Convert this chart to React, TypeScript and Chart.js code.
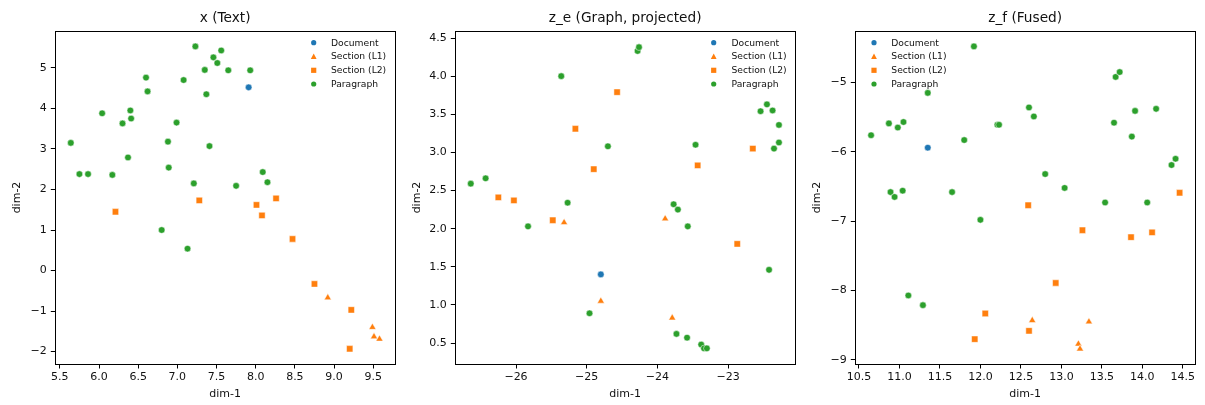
import React, { useEffect, useRef } from 'react';
import { Chart, registerables } from 'chart.js';

Chart.register(...registerables);

// ---------- DATA ----------
// Panel 1: x (Text)
const textDocument = [[7.91, 4.52]];
const textSectionL1 = [[8.92, -0.67], [9.49, -1.4], [9.51, -1.63], [9.58, -1.69]];
const textSectionL2 = [
  [6.21, 1.45], [7.28, 1.73], [8.01, 1.62], [8.08, 1.36], [8.26, 1.78],
  [8.47, 0.78], [8.75, -0.33], [9.22, -0.97], [9.2, -1.93],
];
const textParagraph = [
  [5.64, 3.15], [5.75, 2.38], [5.86, 2.38], [6.04, 3.88], [6.17, 2.36], [6.3, 3.63],
  [6.37, 2.79], [6.4, 3.95], [6.41, 3.75], [6.6, 4.76], [6.62, 4.42], [6.88, 3.18],
  [6.89, 2.54], [6.99, 3.65], [7.08, 4.7], [7.21, 2.15], [7.23, 5.53], [7.35, 4.95],
  [7.37, 4.35], [7.41, 3.07], [7.46, 5.26], [7.51, 5.12], [7.56, 5.43], [7.65, 4.94],
  [7.75, 2.09], [7.93, 4.94], [8.09, 2.43], [8.15, 2.18], [6.8, 1.0], [7.13, 0.54],
];
const textXTicks = [5.5, 6.0, 6.5, 7.0, 7.5, 8.0, 8.5, 9.0, 9.5];
const textYTicks = [-2, -1, 0, 1, 2, 3, 4, 5];

// Panel 2: z_e (Graph, projected)
const graphDocument = [[-24.8, 1.4]];
const graphSectionL1 = [[-25.32, 2.08], [-23.89, 2.13], [-24.8, 1.05], [-23.79, 0.83]];
const graphSectionL2 = [
  [-26.25, 2.41], [-26.03, 2.37], [-25.48, 2.11], [-25.16, 3.31], [-24.9, 2.78],
  [-24.57, 3.79], [-23.43, 2.83], [-22.65, 3.05], [-22.87, 1.8],
];
const graphParagraph = [
  [-26.64, 2.59], [-26.43, 2.66], [-25.36, 4.0], [-24.7, 3.08], [-24.28, 4.33],
  [-24.26, 4.38], [-23.46, 3.1], [-22.54, 3.54], [-22.45, 3.63], [-22.37, 3.55],
  [-22.28, 3.36], [-22.28, 3.13], [-22.35, 3.05], [-25.27, 2.34], [-25.83, 2.03],
  [-24.96, 0.89], [-23.77, 2.32], [-23.71, 2.25], [-23.57, 2.03], [-23.73, 0.62],
  [-23.58, 0.57], [-23.38, 0.48], [-23.34, 0.43], [-23.3, 0.43], [-22.42, 1.46],
];
const graphXTicks = [-26, -25, -24, -23];
const graphYTicks = [0.5, 1.0, 1.5, 2.0, 2.5, 3.0, 3.5, 4.0, 4.5];

// Panel 3: z_f (Fused)
const fusedDocument = [[11.35, -5.94]];
const fusedSectionL1 = [[12.64, -8.43], [13.34, -8.45], [13.21, -8.77], [13.23, -8.84]];
const fusedSectionL2 = [
  [14.46, -6.59], [12.59, -6.77], [13.26, -7.13], [13.86, -7.23], [14.12, -7.16],
  [12.93, -7.89], [12.06, -8.33], [11.93, -8.7], [12.6, -8.58],
];
const fusedParagraph = [
  [10.65, -5.76], [10.87, -5.59], [10.98, -5.65], [11.05, -5.57], [11.35, -5.15],
  [11.92, -4.48], [11.8, -5.83], [12.21, -5.61], [12.23, -5.61], [12.6, -5.36],
  [12.66, -5.49], [12.8, -6.32], [13.04, -6.52], [13.65, -5.58], [13.67, -4.92],
  [13.72, -4.85], [13.87, -5.78], [13.91, -5.41], [14.17, -5.38], [14.36, -6.19],
  [14.41, -6.1], [10.89, -6.58], [10.94, -6.65], [11.04, -6.56], [11.65, -6.58],
  [12.0, -6.98], [13.54, -6.73], [14.06, -6.73], [11.11, -8.07], [11.29, -8.21],
];
const fusedXTicks = [10.5, 11.0, 11.5, 12.0, 12.5, 13.0, 13.5, 14.0, 14.5];
const fusedYTicks = [-9, -8, -7, -6, -5];

const seriesLabels = ['Document', 'Section (L1)', 'Section (L2)', 'Paragraph'];

// ---------- STYLE ----------
const BLUE = '#1f77b4';
const ORANGE = '#ff7f0e';
const GREEN = '#2ca02c';
const FONT = "'DejaVu Sans', 'Liberation Sans', sans-serif";
const TEXT = '#111';

const fmt = (v: number, dec: number) => v.toFixed(dec).replace('-', '\u2212');

type Panel = {
  title: string;
  series: number[][][];
  xMin: number; xMax: number; yMin: number; yMax: number;
  xTicks: number[]; yTicks: number[]; xDec: number; yDec: number;
  legendMarkerX: number; legendTextX: number;
};

const panels: Panel[] = [
  {
    title: 'x (Text)',
    series: [textDocument, textSectionL1, textSectionL2, textParagraph],
    xMin: 5.442, xMax: 9.778, yMin: -2.305, yMax: 5.91,
    xTicks: textXTicks, yTicks: textYTicks, xDec: 1, yDec: 0,
    legendMarkerX: 313.7, legendTextX: 331,
  },
  {
    title: 'z_e (Graph, projected)',
    series: [graphDocument, graphSectionL1, graphSectionL2, graphParagraph],
    xMin: -26.859, xMax: -22.053, yMin: 0.225, yMax: 4.592,
    xTicks: graphXTicks, yTicks: graphYTicks, xDec: 0, yDec: 1,
    legendMarkerX: 313.7, legendTextX: 331.5,
  },
  {
    title: 'z_f (Fused)',
    series: [fusedDocument, fusedSectionL1, fusedSectionL2, fusedParagraph],
    xMin: 10.455, xMax: 14.65, yMin: -9.058, yMax: -4.258,
    xTicks: fusedXTicks, yTicks: fusedYTicks, xDec: 1, yDec: 0,
    legendMarkerX: 74, legendTextX: 91.3,
  },
];

const styles = [
  { color: BLUE, pointStyle: 'circle', radius: 3.3 },
  { color: ORANGE, pointStyle: 'triangle', radius: 4.1 },
  { color: ORANGE, pointStyle: 'rect', radius: 4.5 },
  { color: GREEN, pointStyle: 'circle', radius: 3.3 },
];

const LEGEND_ROWS = [42.7, 56.5, 70.3, 84];

function drawMarker(ctx: CanvasRenderingContext2D, kind: string, x: number, y: number, color: string) {
  ctx.save();
  ctx.fillStyle = color;
  ctx.beginPath();
  if (kind === 'circle') {
    ctx.arc(x, y, 2.6, 0, Math.PI * 2);
  } else if (kind === 'triangle') {
    ctx.moveTo(x, y - 2.9);
    ctx.lineTo(x + 2.9, y + 2.5);
    ctx.lineTo(x - 2.9, y + 2.5);
    ctx.closePath();
  } else {
    ctx.rect(x - 2.6, y - 2.6, 5.2, 5.2);
  }
  ctx.fill();
  ctx.restore();
}

function decorPlugin(p: Panel) {
  return {
    id: 'decor',
    afterDraw(chart: any) {
      const ctx: CanvasRenderingContext2D = chart.ctx;
      const a = chart.chartArea;
      ctx.save();
      // frame
      ctx.strokeStyle = '#000';
      ctx.lineWidth = 1;
      ctx.strokeRect(Math.round(a.left) + 0.5, Math.round(a.top) + 0.5,
        Math.round(a.right) - Math.round(a.left), Math.round(a.bottom) - Math.round(a.top));
      // title
      ctx.fillStyle = TEXT;
      ctx.font = `13.7px ${FONT}`;
      ctx.textAlign = 'center';
      ctx.textBaseline = 'middle';
      ctx.fillText(p.title, (a.left + a.right) / 2, 18.5);
      // axis labels
      ctx.font = `11px ${FONT}`;
      ctx.fillText('dim-1', (a.left + a.right) / 2, 394);
      ctx.save();
      ctx.translate(17, (a.top + a.bottom) / 2);
      ctx.rotate(-Math.PI / 2);
      ctx.fillText('dim-2', 0, 0);
      ctx.restore();
      // legend
      ctx.font = `9.2px ${FONT}`;
      ctx.textAlign = 'left';
      seriesLabels.forEach((lab, i) => {
        const y = LEGEND_ROWS[i];
        drawMarker(ctx, styles[i].pointStyle, p.legendMarkerX, y, styles[i].color);
        ctx.fillStyle = TEXT;
        ctx.fillText(lab, p.legendTextX, y + 0.5);
      });
      ctx.restore();
    },
  };
}

function makeConfig(p: Panel): any {
  return {
    type: 'scatter',
    data: {
      datasets: p.series.map((pts, i) => ({
        label: seriesLabels[i],
        data: pts.map(([x, y]) => ({ x, y })),
        pointStyle: styles[i].pointStyle,
        pointRadius: styles[i].radius,
        pointHoverRadius: styles[i].radius,
        backgroundColor: styles[i].color,
        borderColor: '#ffffff',
        borderWidth: 0.5,
      })),
    },
    options: {
      animation: false,
      responsive: false,
      events: [],
      layout: { padding: { top: 31, right: 1.3, left: 0, bottom: 0 } },
      plugins: {
        legend: { display: false },
        tooltip: { enabled: false },
        title: { display: false },
      },
      scales: {
        x: {
          type: 'linear',
          min: p.xMin,
          max: p.xMax,
          afterBuildTicks: (s: any) => { s.ticks = p.xTicks.map((v) => ({ value: v })); },
          afterFit: (s: any) => { s.height = 41; },
          ticks: {
            callback: (v: number) => fmt(v, p.xDec),
            font: { family: FONT, size: 11 },
            color: TEXT,
            padding: 2,
            maxRotation: 0,
            autoSkip: false,
          },
          grid: { drawOnChartArea: false, drawTicks: true, tickLength: 4.5, color: '#000', tickWidth: 1 },
          border: { display: true, color: '#000', width: 1 },
        },
        y: {
          type: 'linear',
          min: p.yMin,
          max: p.yMax,
          afterBuildTicks: (s: any) => { s.ticks = p.yTicks.map((v) => ({ value: v })); },
          afterFit: (s: any) => { s.width = 55.3; },
          ticks: {
            callback: (v: number) => fmt(v, p.yDec),
            font: { family: FONT, size: 11 },
            color: TEXT,
            padding: 4,
            autoSkip: false,
          },
          grid: { drawOnChartArea: false, drawTicks: true, tickLength: 4.5, color: '#000', tickWidth: 1 },
          border: { display: true, color: '#000', width: 1 },
        },
      },
    },
    plugins: [decorPlugin(p)],
  };
}

function PanelChart({ panel, left }: { panel: Panel; left: number }) {
  const ref = useRef<HTMLCanvasElement | null>(null);
  useEffect(() => {
    if (!ref.current) return;
    const chart = new Chart(ref.current, makeConfig(panel));
    return () => chart.destroy();
  }, [panel]);
  return (
    <canvas
      ref={ref}
      width={400}
      height={405}
      style={{ position: 'absolute', left, top: 0, width: 400, height: 405, display: 'block' }}
    />
  );
}

export default function App() {
  return (
    <div style={{ position: 'absolute', left: 0, top: 0, width: 1205, height: 405, background: '#fff' }}>
      {panels.map((p, i) => (
        <PanelChart key={i} panel={p} left={i * 400} />
      ))}
    </div>
  );
}
